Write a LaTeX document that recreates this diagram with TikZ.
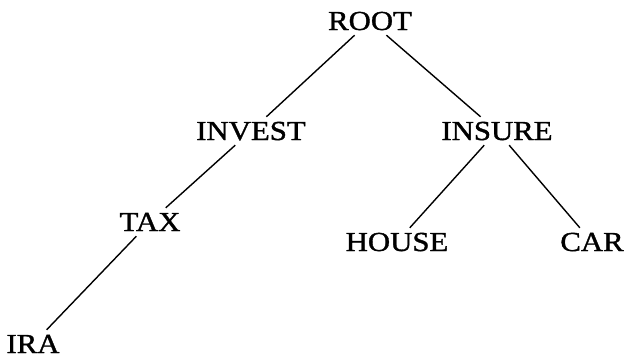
\documentclass[tikz,border=0pt]{standalone}
\usepackage{fontspec}
\newfontfamily\treefont[FakeStretch=1.12,FakeBold=1.3]{Liberation Serif}
\begin{document}
\begin{tikzpicture}[x=1pt,y=-1pt,
  lbl/.style={font=\treefont\fontsize{27.5}{27.5}\selectfont, text height=18pt, text depth=0pt, inner sep=5pt},
  edge/.style={line width=1.4pt}]
\useasboundingbox (0,0) rectangle (630,359);
\node[lbl] (root) at (370,21) {ROOT};
\node[lbl] (invest) at (251,131) {INVEST};
\node[lbl] (insure) at (497,131) {INSURE};
\node[lbl] (tax) at (150,222) {TAX};
\node[lbl] (house) at (397,242) {HOUSE};
\node[lbl] (car) at (592,242) {CAR};
\node[lbl] (ira) at (33,344) {IRA};
\draw[edge] (root) -- (invest);
\draw[edge] (root) -- (insure);
\draw[edge] (invest) -- (tax);
\draw[edge] (tax) -- (ira);
\draw[edge] (insure) -- (house);
\draw[edge] (insure) -- (car);
\end{tikzpicture}
\end{document}
